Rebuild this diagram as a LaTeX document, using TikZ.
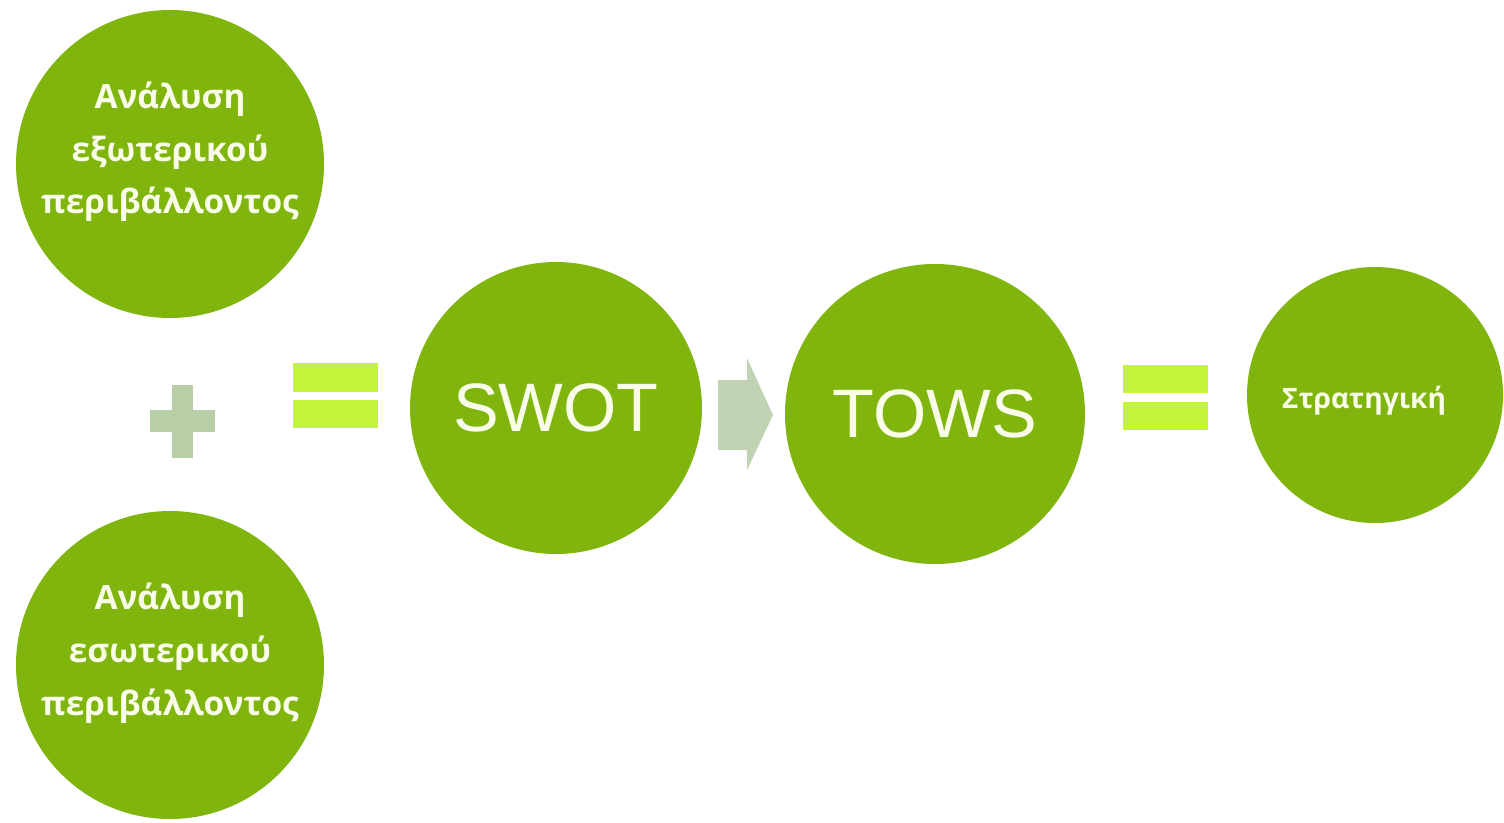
\documentclass[tikz,border=0pt]{standalone}
\usepackage{fontspec}
\setmainfont{Open Sans}
\newfontfamily\arialfont{Liberation Sans}
\definecolor{leaf}{RGB}{128,181,14}
\definecolor{lime}{RGB}{196,244,58}
\definecolor{sage}{RGB}{184,206,166}
\definecolor{pale}{RGB}{192,212,180}
\definecolor{cream}{RGB}{248,252,232}

\begin{document}
\begin{tikzpicture}[
  disc/.style={circle,fill=leaf,text=cream,inner sep=0pt,align=center},
  greek/.style={font=\fontsize{19}{30}\selectfont\bfseries},
  caption/.style={greek,text=cream,align=center,yshift=0.24cm},
  big/.style={font=\fontsize{39}{39}\selectfont\arialfont}]
\useasboundingbox (0,0) rectangle (30.08,16.44);
% the two analyses
\node[disc,minimum size=6.16cm,label={[caption]center:Ανάλυση\\εξωτερικού\\περιβάλλοντος}] (ext) at (3.40,13.16) {};
\node[disc,minimum size=6.16cm,label={[caption]center:Ανάλυση\\εσωτερικού\\περιβάλλοντος}] (int) at (3.40,3.14) {};
% plus between them
\fill[sage] (3.43,7.28) rectangle (3.85,8.74);
\fill[sage] (3.00,7.80) rectangle (4.30,8.24);
% first equals
\fill[lime] (5.86,8.60) rectangle (7.56,9.18);
\fill[lime] (5.86,7.88) rectangle (7.56,8.44);
% swot and tows
\node[disc,big,minimum size=5.84cm] (swot) at (11.12,8.28) {SWOT};
\node[disc,big,minimum size=6.00cm] (tows) at (18.70,8.16) {TOWS};
% block arrow
\fill[pale] (14.36,7.44) -- (14.94,7.44) -- (14.94,7.04) -- (15.46,8.14)
  -- (14.94,9.28) -- (14.94,8.84) -- (14.36,8.84) -- cycle;
% second equals
\fill[lime] (22.46,8.58) rectangle (24.16,9.14);
\fill[lime] (22.46,7.84) rectangle (24.16,8.40);
% result
\node[disc,minimum size=5.12cm,label={[caption,font=\fontsize{16}{20}\selectfont\bfseries,xshift=-0.22cm,yshift=-0.36cm]center:Στρατηγική}] (strat) at (27.50,8.54) {};
\end{tikzpicture}
\end{document}
